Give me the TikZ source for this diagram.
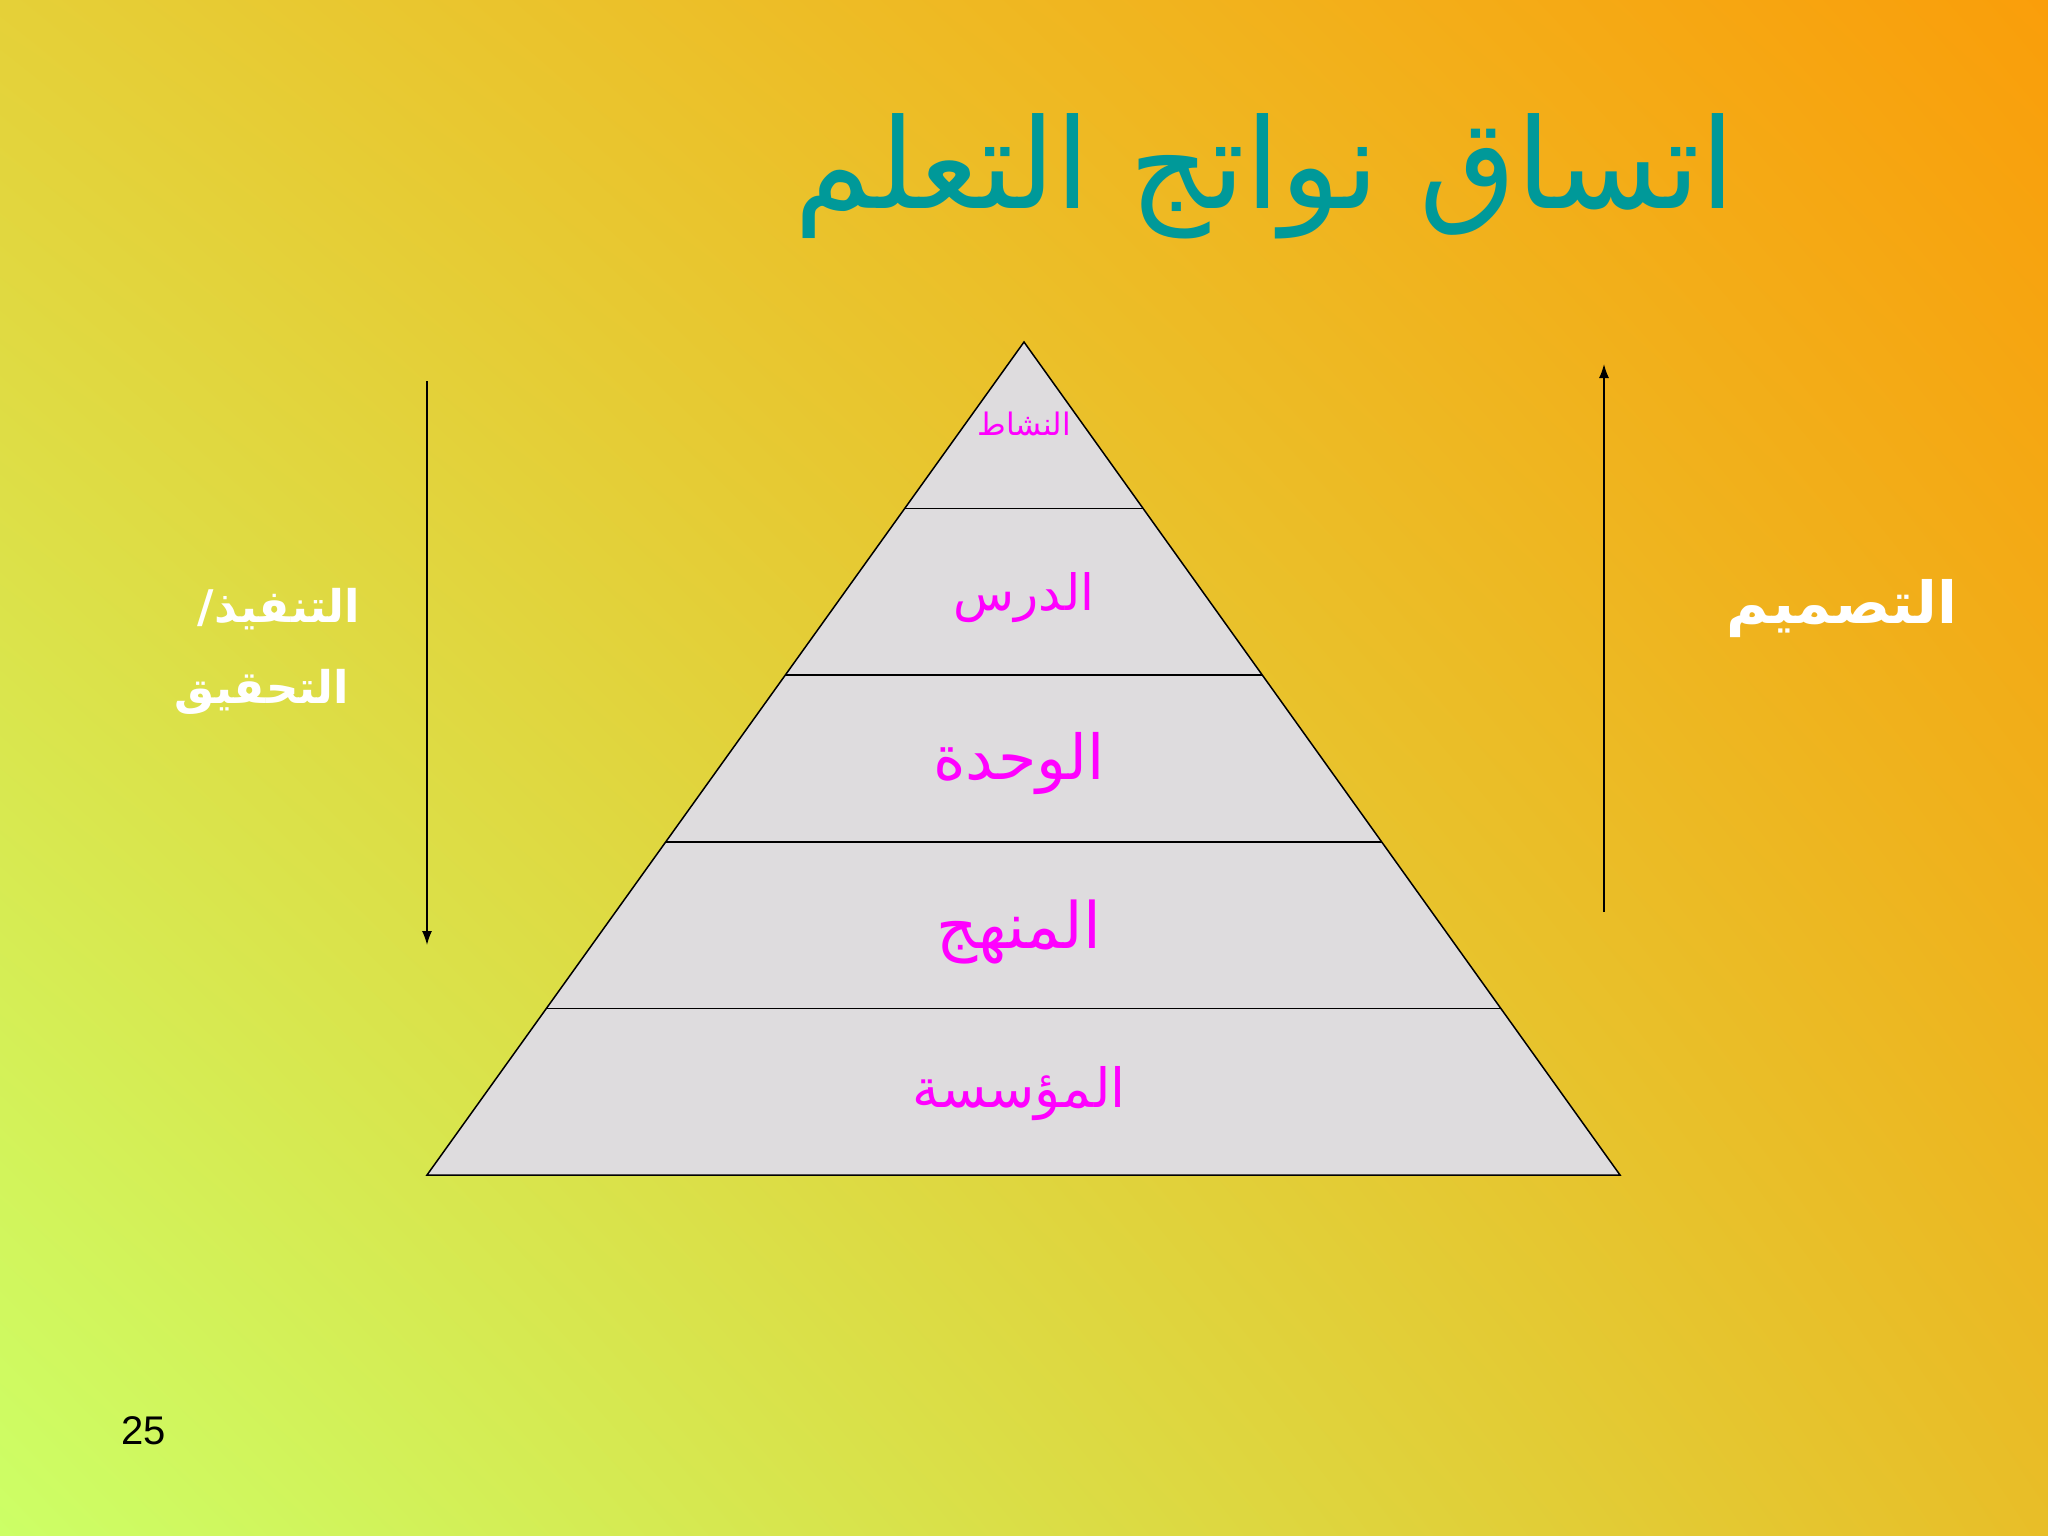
\documentclass[tikz,border=0pt]{standalone}
\usepackage{fontspec}
\setmainfont{Liberation Sans}
\newfontfamily\arabicfont[Script=Arabic]{DejaVu Sans}
\TeXXeTstate=1
\usetikzlibrary{arrows.meta,calc,shadings}
\definecolor{bgTL}{RGB}{229,208,56}
\definecolor{bgTR}{RGB}{250,158,10}
\definecolor{bgBL}{RGB}{204,255,102}
\definecolor{bgBR}{RGB}{232,190,40}
\definecolor{titleteal}{RGB}{0,153,153}
\definecolor{pyrfill}{RGB}{222,220,222}
\definecolor{labmag}{RGB}{255,0,255}
\tikzset{
  layerlabel/.style={text=labmag, font=\arabicfont\fontsize{#1}{#1}\selectfont, inner sep=0pt},
  sidelabel/.style={text=white, font=\arabicfont\bfseries\fontsize{#1}{#1}\selectfont, inner sep=0pt},
  divline/.style={line width=1.5pt, black},
  flowarrow/.style={line width=1.5pt, black, -{Latex[length=14pt,width=10pt]}}
}
\begin{document}
\begin{tikzpicture}[x=1pt,y=-1pt]
\useasboundingbox (0,0) rectangle (2048,1536);
\shade[upper left=bgTL, upper right=bgTR, lower left=bgBL, lower right=bgBR] (0,0) rectangle (2048,1536);
% title
\node[text=titleteal, font=\arabicfont\fontsize{125}{140}\selectfont, inner sep=0pt] (title) at (1265,176) {\beginR اتساق نواتج التعلم\endR};
% pyramid
\coordinate (apex) at (1024,342);
\coordinate (bl) at (427,1175);
\coordinate (br) at (1620,1175);
\fill[pyrfill] (apex) -- (bl) -- (br) -- cycle;
\foreach \t/\n in {0.2/a,0.4/b,0.6/c,0.8/d}{
  \coordinate (L\n) at ($(apex)!\t!(bl)$);
  \coordinate (R\n) at ($(apex)!\t!(br)$);
  \draw[divline] (L\n) -- (R\n);
}
\draw[divline, line join=miter] (apex) -- (bl) -- (br) -- cycle;
% layer labels
\node[layerlabel=31] (l1) at (1024,424) {\beginR النشاط\endR};
\node[layerlabel=50] (l2) at (1024,598) {\beginR الدرس\endR};
\node[layerlabel=62] (l3) at (1019,764) {\beginR الوحدة\endR};
\node[layerlabel=64] (l4) at (1019,932) {\beginR المنهج\endR};
\node[layerlabel=54] (l5) at (1019,1094) {\beginR المؤسسة\endR};
% arrows
\coordinate (la1) at (427,381);
\coordinate (la2) at (427,945);
\draw[flowarrow] (la1) -- (la2);
\coordinate (ra1) at (1604,912);
\coordinate (ra2) at (1604,364);
\draw[flowarrow] (ra1) -- (ra2);
% side labels
\node[sidelabel=58] (design) at (1842,609) {\beginR التصميم\endR};
\node[sidelabel=45] (impl1) at (279,609) {\beginR التنفيذ/\endR};
\node[sidelabel=45] (impl2) at (262,692) {\beginR التحقيق\endR};
% page number
\node[font=\fontsize{40}{48}\selectfont, inner sep=0pt] (pnum) at (144,1431) {25};
\end{tikzpicture}
\end{document}
